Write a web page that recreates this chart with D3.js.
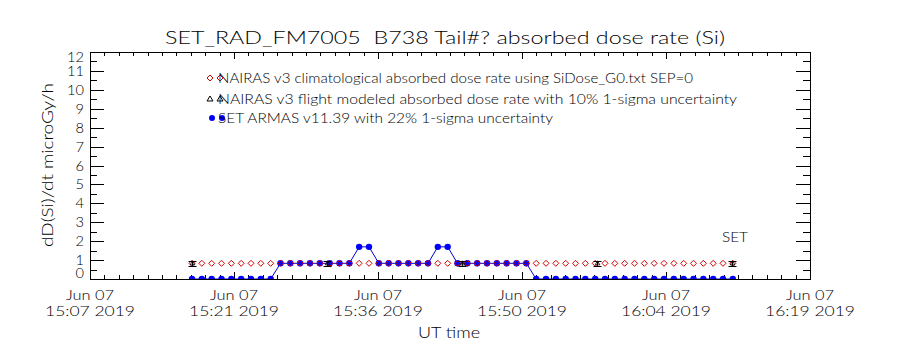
<!DOCTYPE html>
<html><head><meta charset="utf-8">
<script src="https://cdn.jsdelivr.net/npm/d3@7"></script>
<style>
body{margin:0;background:#fff}
svg{display:block}
text{font-family:"DejaVu Sans ExtraLight","Lato","Liberation Sans",sans-serif;font-weight:300;fill:#000;white-space:pre}
</style>
</head><body><svg id="c" width="900" height="350"></svg>
<script>
// ---------- data ----------
const title = "SET_RAD_FM7005  B738 Tail#? absorbed dose rate (Si)";
const yLabel = "dD(Si)/dt microGy/h";
const xLabel = "UT time";
const legendLabels = [
  "NAIRAS v3 climatological absorbed dose rate using SiDose_G0.txt SEP=0",
  "NAIRAS v3 flight modeled absorbed dose rate with 10% 1-sigma uncertainty",
  "SET ARMAS v11.39 with 22% 1-sigma uncertainty"
];
const instrumentLabel = "SET";
const day = "2019-06-07";
const xDomain = ["15:07:00", "16:19:00"];
const xTickTimes = ["15:07:00", "15:21:24", "15:35:48", "15:50:12", "16:04:36", "16:19:00"];
const xTickDates = ["Jun 07", "Jun 07", "Jun 07", "Jun 07", "Jun 07", "Jun 07"];
const xTickLabels = ["15:07 2019", "15:21 2019", "15:36 2019", "15:50 2019", "16:04 2019", "16:19 2019"];
const yTicks = [0, 1, 2, 3, 4, 5, 6, 7, 8, 9, 10, 11, 12];
const yDomain = [0, 12];

const sampleTimes = [
  "15:17:12","15:18:11","15:19:10","15:20:09","15:21:08","15:22:07","15:23:06","15:24:05",
  "15:25:04","15:26:03","15:27:02","15:28:01","15:29:00","15:29:59","15:30:58","15:31:57",
  "15:32:56","15:33:55","15:34:54","15:35:53","15:36:52","15:37:51","15:38:50","15:39:49",
  "15:40:48","15:41:47","15:42:46","15:43:45","15:44:44","15:45:43","15:46:42","15:47:41",
  "15:48:40","15:49:39","15:50:38","15:51:37","15:52:36","15:53:35","15:54:34","15:55:33",
  "15:56:32","15:57:31","15:58:30","15:59:29","16:00:28","16:01:27","16:02:26","16:03:25",
  "16:04:24","16:05:23","16:06:22","16:07:21","16:08:20","16:09:19","16:10:18","16:11:17"
];
const climValues = [
  0.83,0.83,0.83,0.83,0.83,0.83,0.83,0.83,0.83,0.83,0.83,0.83,0.83,0.83,0.83,0.83,
  0.83,0.83,0.83,0.83,0.83,0.83,0.83,0.83,0.83,0.83,0.83,0.83,0.83,0.83,0.83,0.83,
  0.83,0.83,0.83,0.83,0.83,0.83,0.83,0.83,0.83,0.83,0.83,0.83,0.83,0.83,0.83,0.83,
  0.83,0.83,0.83,0.83,0.83,0.83,0.83,0.83
];
const setValues = [
  0,0,0,0,0,0,0,0,0,
  0.83,0.83,0.83,0.83,0.83,0.83,0.83,0.83,
  1.7,1.7,
  0.83,0.83,0.83,0.83,0.83,0.83,
  1.7,1.7,
  0.83,0.83,0.83,0.83,0.83,0.83,0.83,0.83,
  0,0,0,0,0,0,0,0,0,0,0,0,0,0,0,0,0,0,0,0,0
];
const flightTimes = ["15:17:12", "15:30:42", "15:44:12", "15:57:42", "16:11:12"];
const flightValues = [0.83, 0.83, 0.83, 0.83, 0.83];
const flightErr = [0.13, 0.13, 0.13, 0.13, 0.13];

// ---------- layout ----------
const L = 90, R = 810, T = 52, B = 279;
const svg = d3.select("#c");
const parse = d3.utcParse("%Y-%m-%d %H:%M:%S");
const tp = s => parse(day + " " + s);

const x = d3.scaleUtc().domain(xDomain.map(tp)).range([L, R]);
const y = d3.scaleLinear().domain(yDomain).range([B, T]);

function txt(g, s, px, py, size, len, anchor) {
  const t = g.append("text").attr("x", px).attr("y", py)
    .attr("font-size", size).attr("text-anchor", anchor || "middle").text(s);
  if (len) t.attr("textLength", len).attr("lengthAdjust", "spacingAndGlyphs");
  return t;
}

// title
txt(svg, title, 445, 44, 18, 560);

// axes box
svg.append("rect").attr("x", L).attr("y", T).attr("width", R - L).attr("height", B - T)
  .attr("fill", "none").attr("stroke", "#000").attr("stroke-width", 1)
  .attr("shape-rendering", "crispEdges");

// x ticks (major + minor), bottom & top, pointing inward
const t0 = tp(xDomain[0]).getTime(), t1 = tp(xDomain[1]).getTime();
const minorX = d3.range(0, 51).map(i => new Date(t0 + (t1 - t0) * i / 50));
const majX = xTickTimes.map(tp);
function tickGroup(axisFn, scale, vals, size, tr) {
  svg.append("g").attr("transform", tr)
    .call(axisFn(scale).tickValues(vals).tickSize(-size).tickFormat(""))
    .call(g => { g.select(".domain").remove(); g.selectAll("line").attr("shape-rendering", "crispEdges"); });
}
tickGroup(d3.axisBottom, x, minorX, 4, `translate(0,${B})`);
tickGroup(d3.axisTop, x, minorX, 4, `translate(0,${T})`);
tickGroup(d3.axisBottom, x, majX, 7, `translate(0,${B})`);
tickGroup(d3.axisTop, x, majX, 7, `translate(0,${T})`);

// x tick labels
majX.forEach((d, i) => {
  txt(svg, xTickDates[i], x(d), 300, 13, 48);
  txt(svg, xTickLabels[i], x(d), 316, 13, 90);
});
txt(svg, xLabel, 449, 338, 15, 62);

// y ticks
const minorY = d3.range(0, 25).map(i => i * 0.5);
tickGroup(d3.axisLeft, y, minorY, 7, `translate(${L},0)`);
tickGroup(d3.axisLeft, y, yTicks, 14, `translate(${L},0)`);
tickGroup(d3.axisRight, y, minorY, 7, `translate(${R},0)`);
tickGroup(d3.axisRight, y, yTicks, 14, `translate(${R},0)`);

// y tick labels (end labels nudged inside like IDL)
yTicks.forEach(v => {
  let py = y(v) + 5;
  if (v === yDomain[0]) py = y(v) - 1;
  if (v === yDomain[1]) py = y(v) + 10;
  txt(svg, String(v), 84, py, 13.5, v >= 10 ? 17 : 8.5, "end");
});
// y label
svg.append("text").attr("transform", `translate(53,165) rotate(-90)`)
  .attr("font-size", 16).attr("text-anchor", "middle")
  .attr("textLength", 164).attr("lengthAdjust", "spacingAndGlyphs").text(yLabel);

// clip
svg.append("clipPath").attr("id", "pc").append("rect")
  .attr("x", L).attr("y", T).attr("width", R - L).attr("height", B - T);
const plot = svg.append("g").attr("clip-path", "url(#pc)");

const diamond = "M0,-3L3,0L0,3L-3,0Z";
const tri = "M0,-3L3,2L-3,2Z";
const red = "#d40000", blue = "#0000ff";

// SET ARMAS line + points
const setData = sampleTimes.map((t, i) => ({ t: tp(t), v: setValues[i] }));
plot.append("path").datum(setData)
  .attr("d", d3.line().x(d => x(d.t)).y(d => y(d.v)))
  .attr("fill", "none").attr("stroke", "#0000cc").attr("stroke-width", 1);
plot.selectAll("circle.set").data(setData).join("circle").attr("class", "set")
  .attr("cx", d => x(d.t)).attr("cy", d => y(d.v)).attr("r", 3.2).attr("fill", blue);

// NAIRAS climatological diamonds
const climData = sampleTimes.map((t, i) => ({ t: tp(t), v: climValues[i] }));
plot.selectAll("path.clim").data(climData).join("path").attr("class", "clim")
  .attr("d", diamond).attr("transform", d => `translate(${x(d.t)},${y(d.v)})`)
  .attr("fill", "none").attr("stroke", red).attr("stroke-width", 1);

// NAIRAS flight modeled with error bars
const flData = flightTimes.map((t, i) => ({ t: tp(t), v: flightValues[i], e: flightErr[i] }));
const fg = plot.selectAll("g.fl").data(flData).join("g").attr("class", "fl")
  .attr("transform", d => `translate(${Math.round(x(d.t)) + 0.5},0)`);
fg.append("line").attr("x1", 0).attr("x2", 0)
  .attr("y1", d => y(d.v - d.e)).attr("y2", d => y(d.v + d.e)).attr("stroke", "#000");
fg.append("line").attr("x1", -4).attr("x2", 4)
  .attr("y1", d => Math.round(y(d.v - d.e)) + 0.5).attr("y2", d => Math.round(y(d.v - d.e)) + 0.5).attr("stroke", "#000");
fg.append("line").attr("x1", -4).attr("x2", 4)
  .attr("y1", d => Math.round(y(d.v + d.e)) + 0.5).attr("y2", d => Math.round(y(d.v + d.e)) + 0.5).attr("stroke", "#000");
fg.append("path").attr("d", tri).attr("transform", d => `translate(0,${y(d.v)}) scale(0.8)`)
  .attr("fill", "none").attr("stroke", "#000").attr("stroke-width", 1);

// legend
const legY = [78, 99, 118];
const lg = svg.append("g");
[210, 220].forEach(px => {
  lg.append("path").attr("d", diamond).attr("transform", `translate(${px},${legY[0]})`)
    .attr("fill", "none").attr("stroke", red);
  lg.append("path").attr("d", tri).attr("transform", `translate(${px},${legY[1]})`)
    .attr("fill", "none").attr("stroke", "#000");
  lg.append("circle").attr("cx", px + 2).attr("cy", legY[2]).attr("r", 3).attr("fill", blue);
});
const legLen = [475, 519, 335];
legendLabels.forEach((s, i) => txt(lg, s, 218, legY[i] + 5, 13, legLen[i], "start"));

// instrument label
txt(svg, instrumentLabel, 735, 242, 13, 26);
</script>
</body></html>
